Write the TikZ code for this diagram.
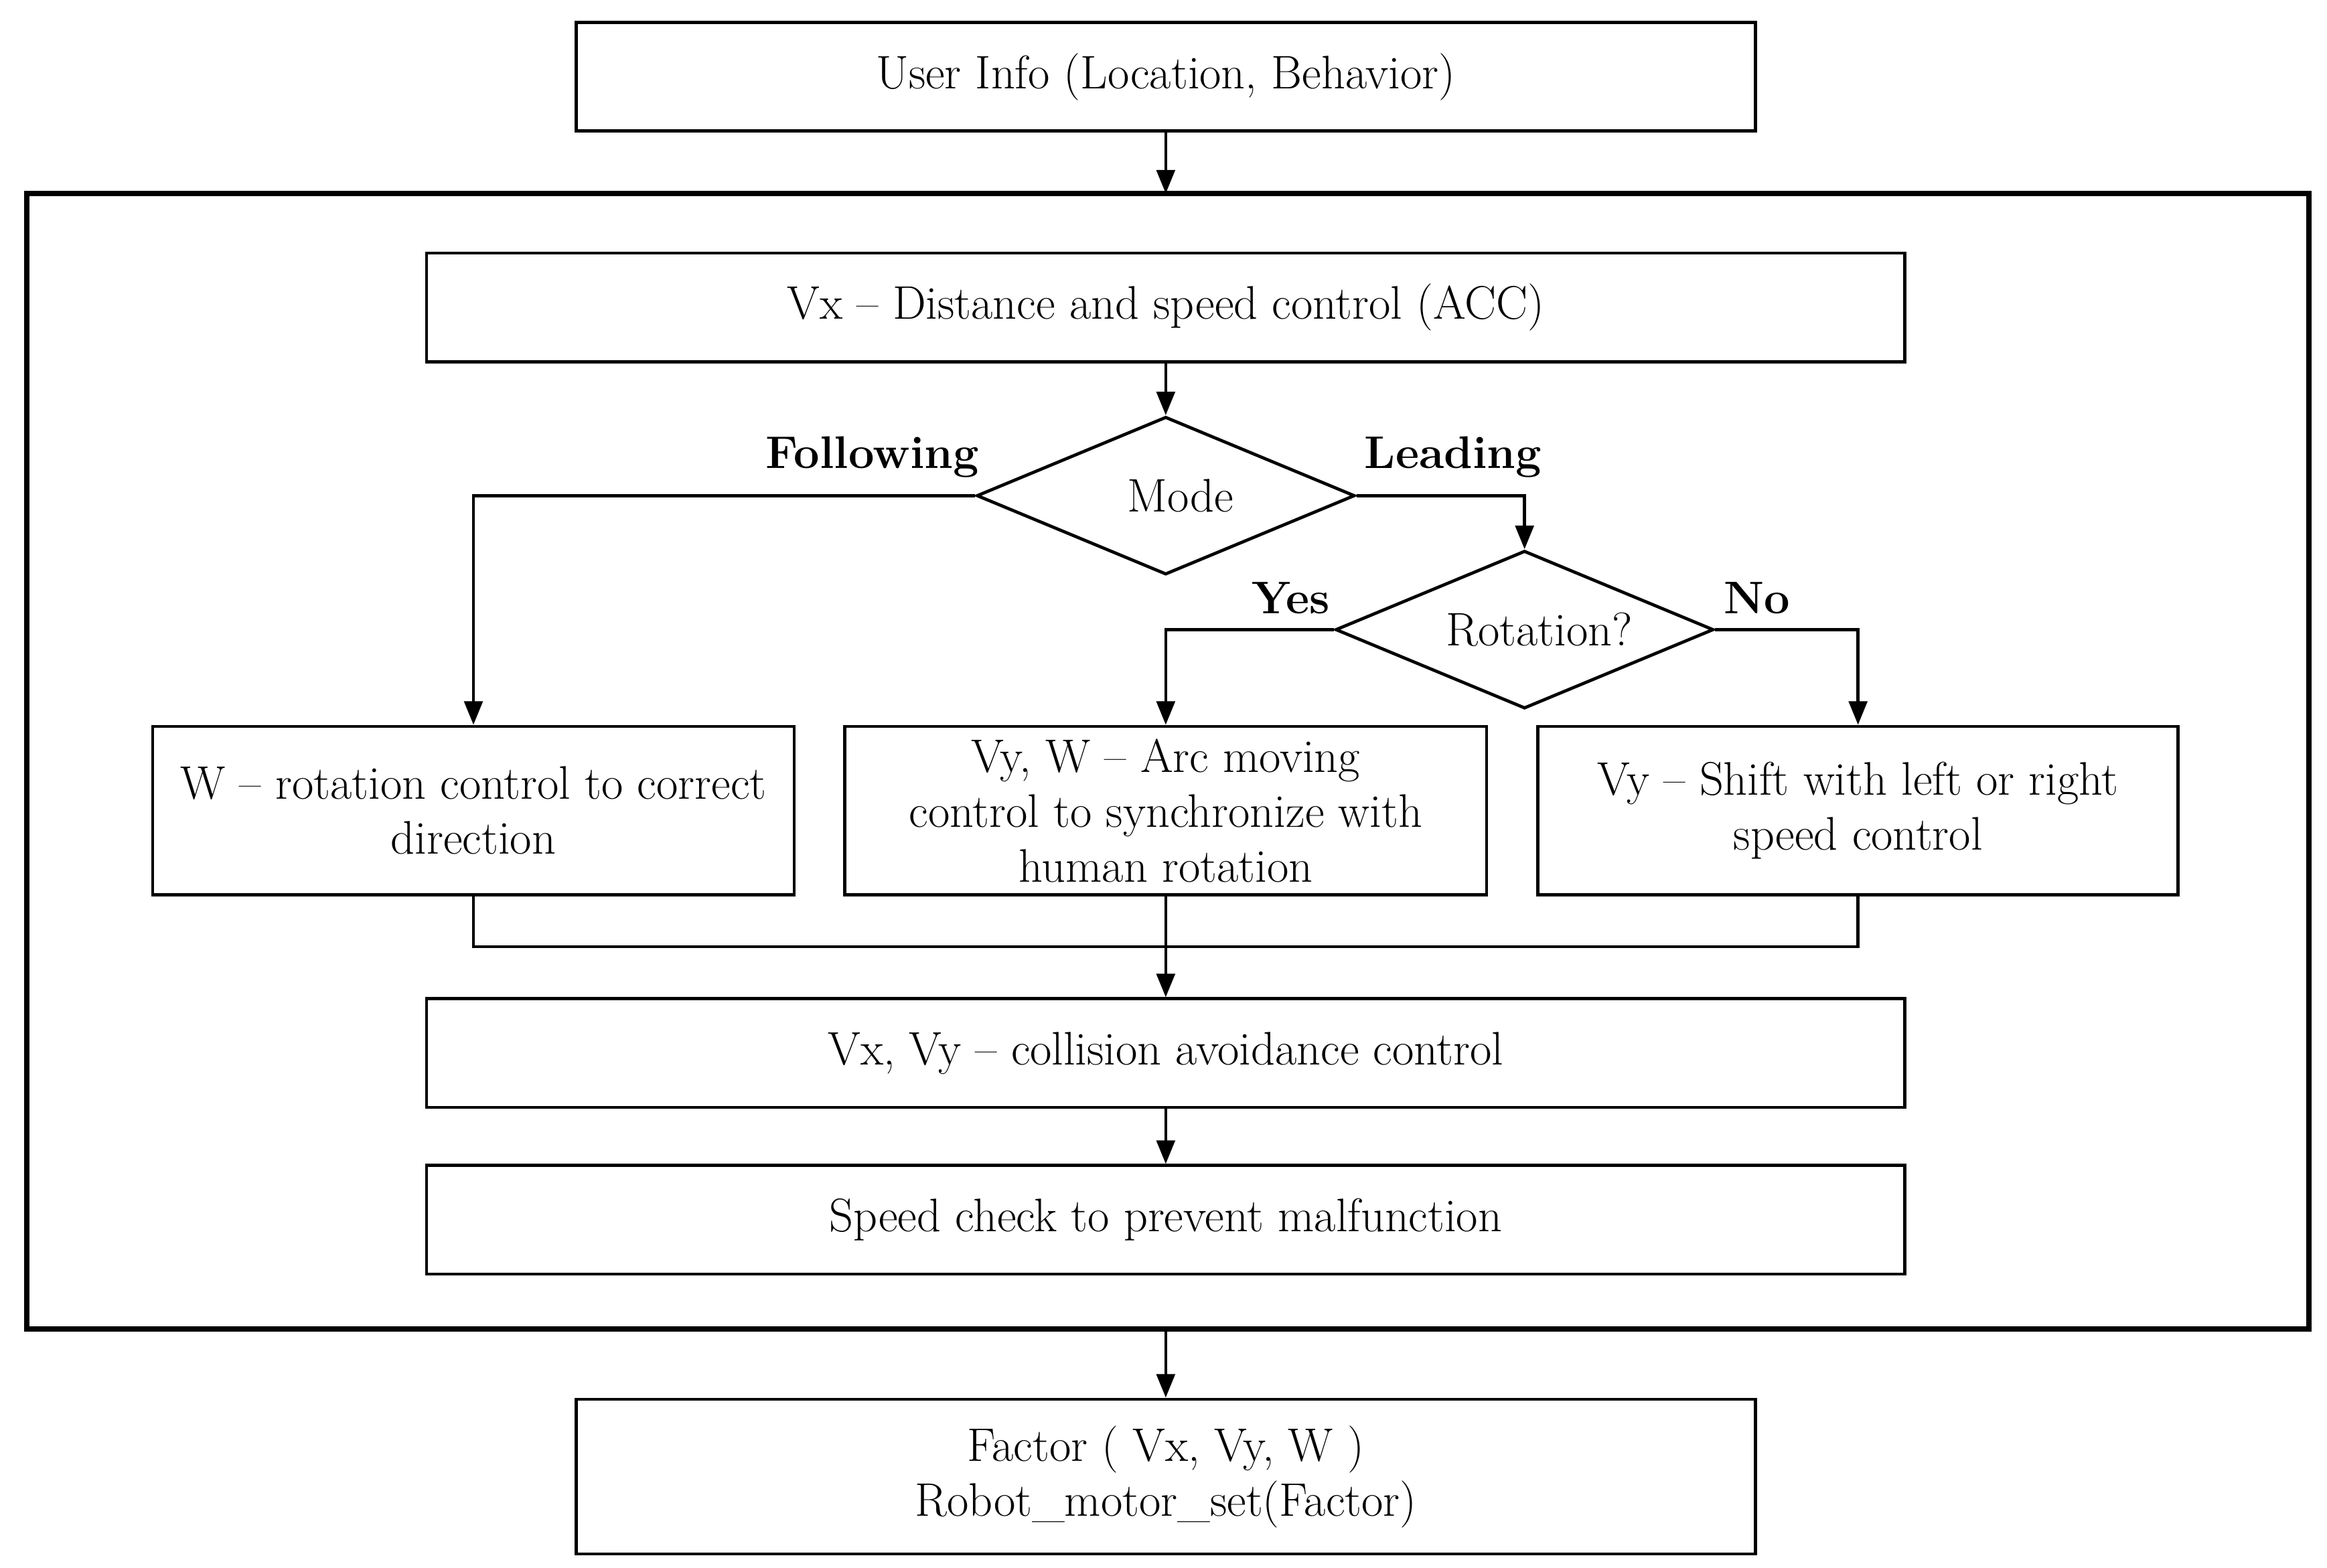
\documentclass[tikz,border=0pt]{standalone}
\usetikzlibrary{shapes.geometric,arrows.meta}
\begin{document}
\begin{tikzpicture}[x=0.02cm,y=-0.02cm,
  every node/.style={font=\fontsize{18}{21}\selectfont},
  box/.style={draw,line width=1.2pt,inner sep=0pt},
  lbl/.style={font=\fontsize{17.5}{21}\selectfont\bfseries},
  ln/.style={line width=1.2pt},
  ar/.style={line width=1.2pt,-{Triangle[length=9pt,width=7pt]}}]
\useasboundingbox (0,0) rectangle (1563,1053);
\draw[line width=2pt] (18,130) rectangle (1551,893);
\coordinate (ftop) at (783,130);
\coordinate (fbot) at (783,893);
\node[box,minimum width=792*0.02cm,minimum height=73*0.02cm] (user) at (783,51.5) {User Info (Location, Behavior)};
\node[box,minimum width=993*0.02cm,minimum height=73*0.02cm] (vx) at (783,206.5) {Vx -- Distance and speed control (ACC)};
\node[diamond,draw,line width=1.2pt,aspect=2.4,minimum width=254*0.02cm,minimum height=106*0.02cm,inner sep=0pt] (mode) at (783,333) {};
\node at (793,333) {Mode};
\node[diamond,draw,line width=1.2pt,aspect=2.4,minimum width=254*0.02cm,minimum height=106*0.02cm,inner sep=0pt] (rot) at (1024,423) {};
\node at (1034,423) {Rotation?};
\node[box,minimum width=431*0.02cm,minimum height=113*0.02cm,align=center] (w) at (318,544.5) {W -- rotation control to correct\\direction};
\node[box,minimum width=431*0.02cm,minimum height=113*0.02cm,align=center] (arc) at (783,544.5) {Vy, W -- Arc moving\\control to synchronize with\\human rotation};
\node[box,minimum width=430*0.02cm,minimum height=113*0.02cm,align=center] (sh) at (1248,544.5) {Vy -- Shift with left or right\\speed control};
\node[box,minimum width=993*0.02cm,minimum height=73*0.02cm] (col) at (783,707.5) {Vx, Vy -- collision avoidance control};
\node[box,minimum width=993*0.02cm,minimum height=73*0.02cm] (spd) at (783,819.5) {Speed check to prevent malfunction};
\node[box,minimum width=792*0.02cm,minimum height=104*0.02cm,align=center] (fac) at (783,992) {Factor ( Vx, Vy, W )\\Robot\_motor\_set(Factor)};
\node[lbl] at (586,307) {Following};
\node[lbl] at (976,307) {Leading};
\node[lbl] at (867,402) {Yes};
\node[lbl] at (1180,402) {No};
\coordinate (m) at (783,636);
\draw[ar] (user) -- (ftop);
\draw[ar] (vx) -- (mode.north);
\draw[ar] (mode.west) -| (w.north);
\draw[ar] (mode.east) -| (rot.north);
\draw[ar] (rot.west) -| (arc.north);
\draw[ar] (rot.east) -| (sh.north);
\draw[ln] (w.south) |- (m) -| (sh.south);
\draw[ar] (arc.south) -- (col.north);
\draw[ar] (col) -- (spd);
\draw[ar] (fbot) -- (fac.north);
\end{tikzpicture}
\end{document}
